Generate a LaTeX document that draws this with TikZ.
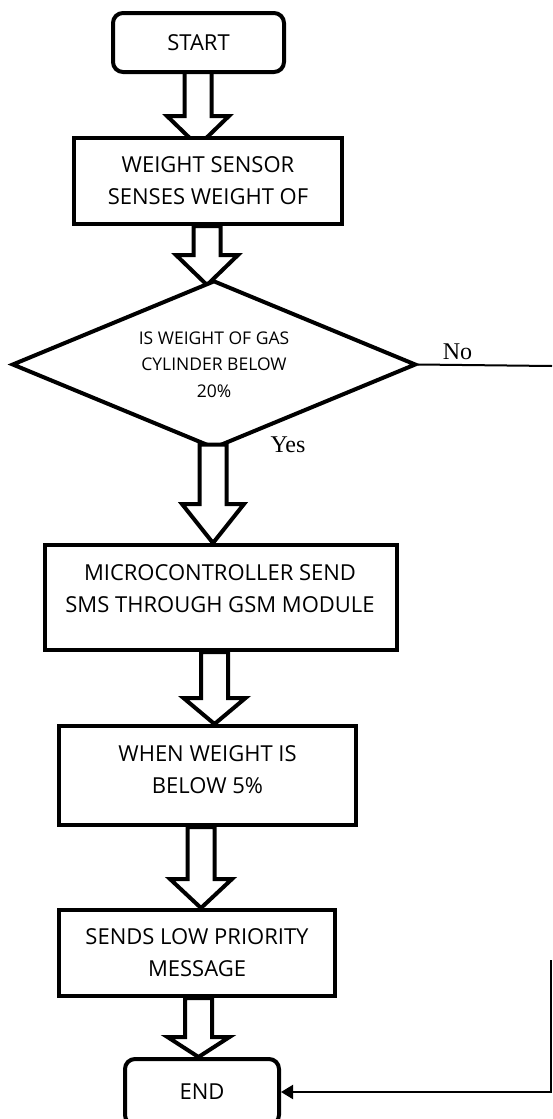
\documentclass[tikz,border=0pt]{standalone}
\usepackage{fontspec}
\setmainfont{Open Sans}
\newfontfamily\serifyes{Liberation Serif}
\usetikzlibrary{shapes.geometric,calc,arrows.meta}
\pgfdeclarelayer{background}
\pgfsetlayers{background,main}
\tikzset{
  boxnode/.style={draw, line width=4pt, fill=white, inner sep=0pt, align=center,
    font=\fontsize{22pt}{32pt}\selectfont},
  termnode/.style={boxnode, rounded corners=10pt},
  decnode/.style={draw, diamond, line width=4pt, fill=white, inner sep=0pt, aspect=2.4,
    align=center, font=\fontsize{17.5pt}{26.5pt}\selectfont},
  txtnode/.style={inner sep=0pt, align=center, font=\fontsize{22pt}{32pt}\selectfont},
  blockarrow/.style={draw, line width=4pt, fill=white, line join=miter},
  lbl/.style={inner sep=0pt, font=\serifyes\fontsize{24pt}{28pt}\selectfont},
  thinline/.style={line width=2pt},
}
% #1 source, #2 target, #3 x, #4 head length, #5 overshoot, #6 layer, #7 start offset
\newcommand\barrow[7]{%
  \begin{pgfonlayer}{#6}
  \path[blockarrow] let \p1=(#1.south), \p2=(#2.north),
      \n0={\y1+#7pt}, \n1={\y2-#5pt}, \n2={\y2-#5pt+#4pt} in
    ({#3-13.5},\n0) -- ({#3-13.5},\n2) -- ({#3-31},\n2) -- ({#3},\n1)
    -- ({#3+31},\n2) -- ({#3+13.5},\n2) -- ({#3+13.5},\n0) -- cycle;
  \end{pgfonlayer}}
\begin{document}
\begin{tikzpicture}[x=1pt,y=1pt]
  \useasboundingbox (0,0) rectangle (552,-1119);
  \clip (0,0) rectangle (552,-1119);

  \node[termnode, minimum width=171pt, minimum height=59pt] (start) at (198.5,-42.5) {START};
  \node[boxnode, minimum width=268pt, minimum height=86pt] (b2) at (208,-181)
    {WEIGHT SENSOR\\SENSES WEIGHT OF};
  \node[decnode, minimum width=404pt, minimum height=168pt] (dia) at (214,-364.5)
    {IS WEIGHT OF GAS\\CYLINDER BELOW\\20\%};
  \node[boxnode, minimum width=352pt, minimum height=105pt] (b3) at (221,-597.5) {};
  \node[txtnode] (b3t) at (220,-589) {MICROCONTROLLER SEND\\SMS THROUGH GSM MODULE};
  \node[boxnode, minimum width=297pt, minimum height=99pt] (b4) at (207.5,-775.5) {};
  \node[txtnode] (b4t) at (207.5,-770) {WHEN WEIGHT IS\\BELOW 5\%};
  \node[boxnode, minimum width=276pt, minimum height=86pt] (b5) at (197,-953)
    {SENDS LOW PRIORITY\\MESSAGE};
  \node[termnode, minimum width=154pt, minimum height=66pt] (end) at (202,-1092) {END};

  \barrow{start}{b2}{198}{30}{10}{background}{6}
  \barrow{b2}{dia}{207}{30}{6.5}{background}{0}
  \barrow{dia}{b3}{213}{39}{0}{main}{6}
  \barrow{b3}{b4}{214.5}{26}{0}{main}{0}
  \barrow{b4}{b5}{201}{29}{0}{main}{0}
  \barrow{b5}{end}{198.5}{20}{0}{main}{0}

  \node[lbl] (no) at (457.5,-352) {No};
  \node[lbl] (yes) at (288,-445) {Yes};

  \coordinate (noend) at (552,-366);
  \draw[thinline] (dia.east) -- (noend);
  \coordinate (rv) at (551,-960);
  \draw[thinline, -{Triangle[length=12pt,width=14pt]}] (rv) |- (end.east);
\end{tikzpicture}
\end{document}
